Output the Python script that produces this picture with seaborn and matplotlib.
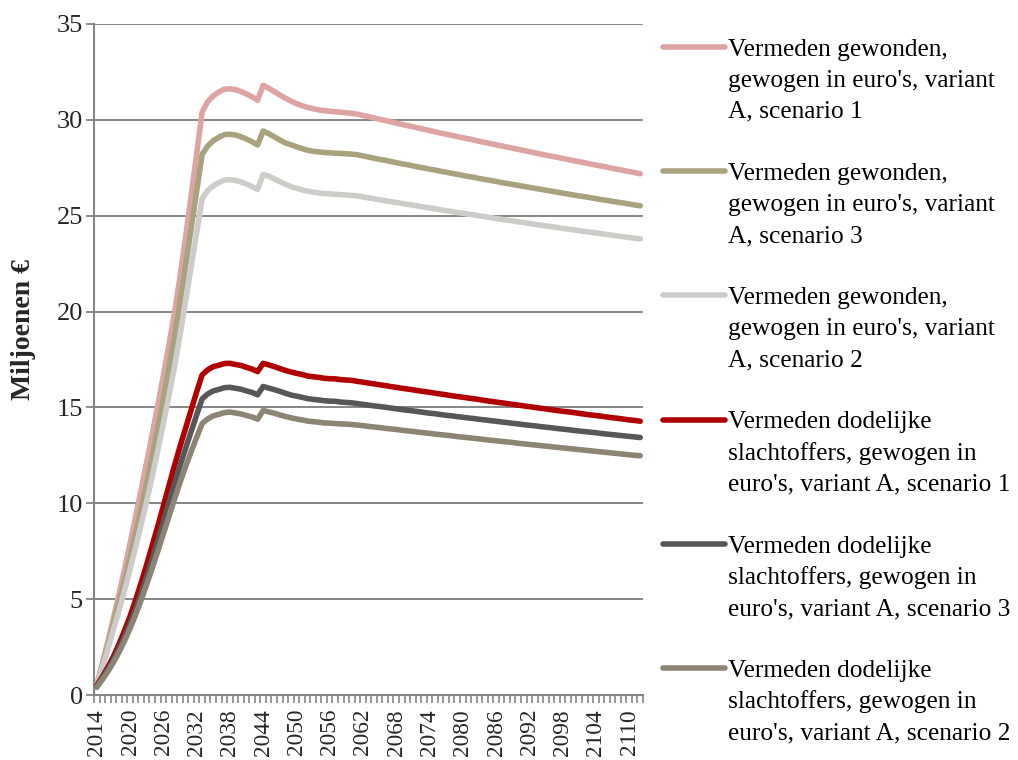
import matplotlib
matplotlib.use("Agg")
import matplotlib.pyplot as plt
from matplotlib.lines import Line2D
from matplotlib.ticker import FixedLocator
import pandas as pd
import seaborn as sns

# ---------------------------------------------------------------------------
# Data: avoided costs per year (million euro), 2014-2112
# ---------------------------------------------------------------------------
years = list(range(2014, 2113))

gewonden_s1 = [
    0.50, 1.65, 2.80, 4.00, 5.25, 6.55, 7.90, 9.30, 10.70, 12.15,
    13.60, 15.10, 16.65, 18.25, 19.90, 21.80, 23.85, 26.00, 28.20, 30.40,
    30.95, 31.25, 31.45, 31.60, 31.62, 31.58, 31.48, 31.35, 31.20, 31.02,
    31.80, 31.65, 31.48, 31.30, 31.13, 30.98, 30.85, 30.74, 30.65, 30.58,
    30.52, 30.48, 30.45, 30.42, 30.40, 30.37, 30.34, 30.30, 30.23, 30.17,
    30.10, 30.03, 29.97, 29.90, 29.83, 29.77, 29.70, 29.64, 29.57, 29.51,
    29.44, 29.38, 29.31, 29.25, 29.19, 29.13, 29.07, 29.01, 28.95, 28.88,
    28.82, 28.76, 28.70, 28.64, 28.58, 28.52, 28.46, 28.40, 28.34, 28.28,
    28.22, 28.16, 28.10, 28.05, 27.99, 27.93, 27.87, 27.82, 27.76, 27.70,
    27.64, 27.59, 27.53, 27.47, 27.42, 27.36, 27.30, 27.25, 27.19,
]

gewonden_s3 = [
    0.50, 1.55, 2.60, 3.70, 4.80, 5.95, 7.15, 8.40, 9.70, 11.05,
    12.45, 13.90, 15.40, 17.00, 18.65, 20.45, 22.35, 24.30, 26.25, 28.20,
    28.63, 28.91, 29.09, 29.23, 29.25, 29.21, 29.12, 29.00, 28.86, 28.69,
    29.42, 29.28, 29.12, 28.95, 28.80, 28.70, 28.60, 28.50, 28.42, 28.36,
    28.33, 28.30, 28.28, 28.26, 28.25, 28.23, 28.21, 28.18, 28.12, 28.06,
    28.00, 27.94, 27.89, 27.83, 27.77, 27.71, 27.66, 27.60, 27.54, 27.49,
    27.43, 27.38, 27.32, 27.27, 27.21, 27.16, 27.10, 27.05, 27.00, 26.94,
    26.89, 26.84, 26.79, 26.73, 26.68, 26.63, 26.58, 26.53, 26.48, 26.43,
    26.38, 26.33, 26.28, 26.23, 26.18, 26.13, 26.08, 26.03, 25.99, 25.94,
    25.89, 25.84, 25.80, 25.75, 25.70, 25.66, 25.61, 25.56, 25.52,
]

gewonden_s2 = [
    0.50, 1.45, 2.40, 3.40, 4.40, 5.45, 6.55, 7.70, 8.90, 10.10,
    11.40, 12.75, 14.15, 15.60, 17.10, 18.75, 20.50, 22.30, 24.10, 25.90,
    26.31, 26.56, 26.73, 26.86, 26.88, 26.84, 26.76, 26.65, 26.52, 26.37,
    27.15, 27.06, 26.92, 26.78, 26.64, 26.52, 26.43, 26.35, 26.28, 26.23,
    26.19, 26.16, 26.14, 26.12, 26.10, 26.08, 26.06, 26.03, 25.98, 25.93,
    25.88, 25.83, 25.78, 25.74, 25.69, 25.64, 25.59, 25.55, 25.50, 25.45,
    25.40, 25.36, 25.31, 25.26, 25.22, 25.17, 25.13, 25.08, 25.04, 24.99,
    24.95, 24.90, 24.86, 24.81, 24.77, 24.73, 24.68, 24.64, 24.60, 24.55,
    24.51, 24.47, 24.43, 24.39, 24.34, 24.30, 24.26, 24.22, 24.18, 24.14,
    24.10, 24.06, 24.02, 23.98, 23.94, 23.90, 23.86, 23.83, 23.79,
]

dodelijk_s1 = [
    0.50, 0.95, 1.45, 2.00, 2.65, 3.35, 4.10, 4.95, 5.85, 6.80,
    7.80, 8.80, 9.85, 10.90, 11.95, 12.95, 13.90, 14.85, 15.80, 16.70,
    16.96, 17.13, 17.20, 17.29, 17.30, 17.24, 17.19, 17.09, 17.00, 16.87,
    17.30, 17.22, 17.13, 17.03, 16.93, 16.85, 16.78, 16.72, 16.64, 16.60,
    16.57, 16.52, 16.50, 16.49, 16.45, 16.43, 16.41, 16.36, 16.32, 16.27,
    16.23, 16.18, 16.14, 16.09, 16.05, 16.00, 15.96, 15.92, 15.87, 15.83,
    15.79, 15.74, 15.70, 15.66, 15.61, 15.57, 15.53, 15.49, 15.45, 15.41,
    15.36, 15.32, 15.28, 15.24, 15.20, 15.16, 15.12, 15.08, 15.04, 15.00,
    14.96, 14.92, 14.88, 14.84, 14.80, 14.77, 14.73, 14.69, 14.65, 14.61,
    14.58, 14.54, 14.50, 14.46, 14.43, 14.39, 14.35, 14.32, 14.28,
]

dodelijk_s3 = [
    0.45, 0.88, 1.33, 1.83, 2.40, 3.03, 3.72, 4.48, 5.30, 6.18,
    7.10, 8.05, 9.03, 10.02, 11.00, 11.95, 12.85, 13.73, 14.60, 15.45,
    15.70, 15.86, 15.94, 16.03, 16.05, 16.00, 15.95, 15.86, 15.78, 15.66,
    16.09, 16.01, 15.93, 15.84, 15.74, 15.65, 15.59, 15.53, 15.46, 15.42,
    15.39, 15.35, 15.33, 15.32, 15.28, 15.26, 15.24, 15.20, 15.16, 15.12,
    15.08, 15.05, 15.01, 14.97, 14.93, 14.89, 14.85, 14.82, 14.78, 14.74,
    14.70, 14.67, 14.63, 14.59, 14.56, 14.52, 14.49, 14.45, 14.42, 14.38,
    14.35, 14.31, 14.28, 14.24, 14.21, 14.17, 14.14, 14.10, 14.07, 14.04,
    14.00, 13.97, 13.94, 13.90, 13.87, 13.84, 13.80, 13.77, 13.74, 13.71,
    13.68, 13.64, 13.61, 13.58, 13.55, 13.52, 13.49, 13.46, 13.43,
]

dodelijk_s2 = [
    0.40, 0.80, 1.22, 1.70, 2.23, 2.82, 3.47, 4.18, 4.95, 5.77,
    6.62, 7.50, 8.40, 9.30, 10.20, 11.08, 11.90, 12.68, 13.43, 14.16,
    14.40, 14.56, 14.64, 14.73, 14.76, 14.71, 14.66, 14.58, 14.50, 14.39,
    14.84, 14.77, 14.70, 14.61, 14.53, 14.46, 14.40, 14.35, 14.29, 14.26,
    14.23, 14.19, 14.18, 14.16, 14.14, 14.13, 14.11, 14.08, 14.05, 14.01,
    13.98, 13.95, 13.91, 13.88, 13.85, 13.81, 13.78, 13.75, 13.71, 13.68,
    13.65, 13.61, 13.58, 13.55, 13.52, 13.48, 13.45, 13.42, 13.39, 13.36,
    13.32, 13.29, 13.26, 13.23, 13.20, 13.17, 13.13, 13.10, 13.07, 13.04,
    13.01, 12.98, 12.95, 12.92, 12.89, 12.86, 12.83, 12.80, 12.77, 12.74,
    12.71, 12.68, 12.65, 12.62, 12.59, 12.56, 12.53, 12.50, 12.48,
]

# Legend labels, each wrapped over three lines
labels = [
    ["Vermeden gewonden,", "gewogen in euro's, variant", "A, scenario 1"],
    ["Vermeden gewonden,", "gewogen in euro's, variant", "A, scenario 3"],
    ["Vermeden gewonden,", "gewogen in euro's, variant", "A, scenario 2"],
    ["Vermeden dodelijke", "slachtoffers, gewogen in", "euro's, variant A, scenario 1"],
    ["Vermeden dodelijke", "slachtoffers, gewogen in", "euro's, variant A, scenario 3"],
    ["Vermeden dodelijke", "slachtoffers, gewogen in", "euro's, variant A, scenario 2"],
]
series_values = [gewonden_s1, gewonden_s3, gewonden_s2,
                 dodelijk_s1, dodelijk_s3, dodelijk_s2]
colors = ["#DEA3A3", "#A9A27F", "#CDCCC8", "#B00000", "#575757", "#8C8575"]

y_ticks = [0, 5, 10, 15, 20, 25, 30, 35]
x_tick_years = list(range(2014, 2111, 6))

# Long-form table for seaborn
keys = [" ".join(lab) for lab in labels]
frames = []
for key, vals in zip(keys, series_values):
    frames.append(pd.DataFrame({"Jaar": years, "Waarde": vals, "Reeks": key}))
df = pd.concat(frames, ignore_index=True)
palette = dict(zip(keys, colors))

# ---------------------------------------------------------------------------
# Styling
# ---------------------------------------------------------------------------
sns.set_theme(style="white")
plt.rcParams["font.family"] = ["Liberation Serif", "DejaVu Serif"]
plt.rcParams["text.color"] = "#000000"

grid_col = "#868686"
line_w = 4.0

fig = plt.figure(figsize=(10.18, 7.60), dpi=100)
W, H = 1018, 760
ax_left, ax_right, ax_top, ax_bottom = 94, 643, 24, 695
ax = fig.add_axes([ax_left / W, 1 - ax_bottom / H,
                   (ax_right - ax_left) / W, (ax_bottom - ax_top) / H])

sns.lineplot(data=df, x="Jaar", y="Waarde", hue="Reeks", hue_order=keys,
             palette=palette, linewidth=line_w, legend=False, ax=ax,
             solid_capstyle="round", solid_joinstyle="round", zorder=3)

ax.set_xlim(years[0] - 0.5, years[-1] + 0.5)
ax.set_ylim(0, 35)

# Y axis
ax.yaxis.set_major_locator(FixedLocator(y_ticks))
ax.set_yticklabels([str(v) for v in y_ticks])
ax.grid(axis="y", color=grid_col, linewidth=1.4, zorder=1)
ax.grid(axis="x", visible=False)
ax.tick_params(axis="y", which="major", direction="out", length=6, width=1.3,
               color=grid_col, pad=2, labelsize=19, left=True)

# X axis: labels every 6 years, tick marks between all years
ax.xaxis.set_major_locator(FixedLocator(x_tick_years))
ax.set_xticklabels([str(y) for y in x_tick_years], rotation=90)
ax.xaxis.set_minor_locator(FixedLocator([y - 0.5 for y in years] + [years[-1] + 0.5]))
ax.tick_params(axis="x", which="major", length=0, pad=10, labelsize=16.8, bottom=True)
ax.tick_params(axis="x", which="minor", direction="out", length=6, width=1.2,
               color=grid_col, bottom=True)

for side in ["top", "right"]:
    ax.spines[side].set_visible(False)
for side in ["left", "bottom"]:
    ax.spines[side].set_color(grid_col)
    ax.spines[side].set_linewidth(1.5)

ax.set_xlabel("")
ax.set_ylabel("Miljoenen €", fontsize=20, fontweight="bold")
ax.yaxis.set_label_coords(-0.106, 0.545)

# ---------------------------------------------------------------------------
# Legend: handle next to the first line of each wrapped label
# ---------------------------------------------------------------------------
handles, texts = [], []
blank = Line2D([], [], linestyle="none")
for i, (lab, col) in enumerate(zip(labels, colors)):
    handles.append(Line2D([], [], color=col, linewidth=line_w, solid_capstyle="round"))
    texts.append(lab[0])
    for line in lab[1:]:
        handles.append(blank)
        texts.append(line)
    if i < len(labels) - 1:
        handles.append(blank)
        texts.append(" ")

fig.legend(handles, texts, loc="upper left", bbox_to_anchor=(663 / W, 1 - 38 / H),
           frameon=False, fontsize=18.3, handlelength=2.45, handletextpad=0.12,
           labelspacing=0.325, borderpad=0, borderaxespad=0)

fig.savefig("out.png", dpi=100)
